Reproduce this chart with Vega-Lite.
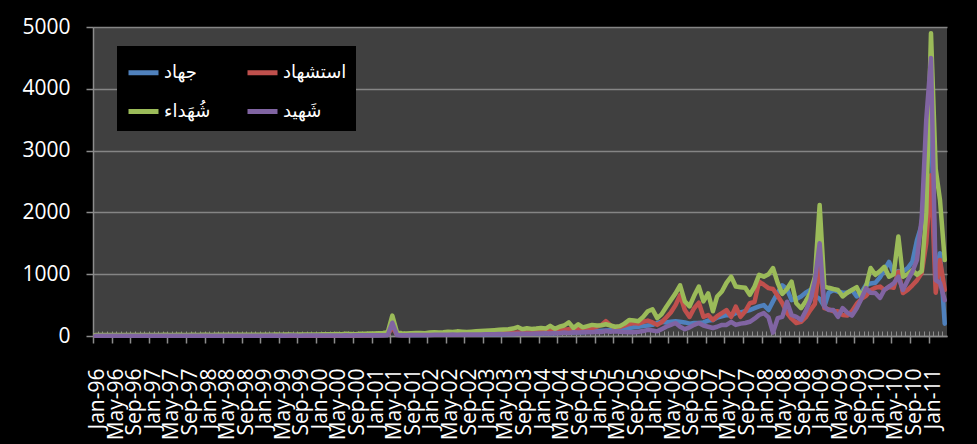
{
"$schema": "https://vega.github.io/schema/vega-lite/v6.json",
"width": 854, "height": 309,
"autosize": {"type": "none"},
"padding": {"left": 93, "top": 27, "right": 30, "bottom": 108},
"background": "#000000",
"config": {"view": {"fill": "#404040", "stroke": null}, "font": "Open Sans"},
"resolve": {"axis": {"x": "independent"}},
"data": {"values": [
{"d":"1996-01","s":"a","v":5},{"d":"1996-02","s":"a","v":6},{"d":"1996-03","s":"a","v":5},{"d":"1996-04","s":"a","v":4},{"d":"1996-05","s":"a","v":6},{"d":"1996-06","s":"a","v":5},{"d":"1996-07","s":"a","v":5},{"d":"1996-08","s":"a","v":6},{"d":"1996-09","s":"a","v":4},{"d":"1996-10","s":"a","v":5},{"d":"1996-11","s":"a","v":6},{"d":"1996-12","s":"a","v":5},
{"d":"1997-01","s":"a","v":5},{"d":"1997-02","s":"a","v":6},{"d":"1997-03","s":"a","v":6},{"d":"1997-04","s":"a","v":5},{"d":"1997-05","s":"a","v":4},{"d":"1997-06","s":"a","v":6},{"d":"1997-07","s":"a","v":5},{"d":"1997-08","s":"a","v":5},{"d":"1997-09","s":"a","v":6},{"d":"1997-10","s":"a","v":5},{"d":"1997-11","s":"a","v":6},{"d":"1997-12","s":"a","v":6},
{"d":"1998-01","s":"a","v":6},{"d":"1998-02","s":"a","v":5},{"d":"1998-03","s":"a","v":7},{"d":"1998-04","s":"a","v":6},{"d":"1998-05","s":"a","v":5},{"d":"1998-06","s":"a","v":6},{"d":"1998-07","s":"a","v":7},{"d":"1998-08","s":"a","v":6},{"d":"1998-09","s":"a","v":5},{"d":"1998-10","s":"a","v":7},{"d":"1998-11","s":"a","v":6},{"d":"1998-12","s":"a","v":7},
{"d":"1999-01","s":"a","v":7},{"d":"1999-02","s":"a","v":6},{"d":"1999-03","s":"a","v":8},{"d":"1999-04","s":"a","v":7},{"d":"1999-05","s":"a","v":6},{"d":"1999-06","s":"a","v":8},{"d":"1999-07","s":"a","v":7},{"d":"1999-08","s":"a","v":8},{"d":"1999-09","s":"a","v":7},{"d":"1999-10","s":"a","v":8},{"d":"1999-11","s":"a","v":9},{"d":"1999-12","s":"a","v":8},
{"d":"2000-01","s":"a","v":10},{"d":"2000-02","s":"a","v":8},{"d":"2000-03","s":"a","v":12},{"d":"2000-04","s":"a","v":10},{"d":"2000-05","s":"a","v":9},{"d":"2000-06","s":"a","v":11},{"d":"2000-07","s":"a","v":10},{"d":"2000-08","s":"a","v":12},{"d":"2000-09","s":"a","v":10},{"d":"2000-10","s":"a","v":9},{"d":"2000-11","s":"a","v":12},{"d":"2000-12","s":"a","v":14},
{"d":"2001-01","s":"a","v":15},{"d":"2001-02","s":"a","v":14},{"d":"2001-03","s":"a","v":16},{"d":"2001-04","s":"a","v":18},{"d":"2001-05","s":"a","v":180},{"d":"2001-06","s":"a","v":20},{"d":"2001-07","s":"a","v":16},{"d":"2001-08","s":"a","v":15},{"d":"2001-09","s":"a","v":17},{"d":"2001-10","s":"a","v":18},{"d":"2001-11","s":"a","v":16},{"d":"2001-12","s":"a","v":18},
{"d":"2002-01","s":"a","v":20},{"d":"2002-02","s":"a","v":22},{"d":"2002-03","s":"a","v":21},{"d":"2002-04","s":"a","v":24},{"d":"2002-05","s":"a","v":22},{"d":"2002-06","s":"a","v":25},{"d":"2002-07","s":"a","v":23},{"d":"2002-08","s":"a","v":26},{"d":"2002-09","s":"a","v":24},{"d":"2002-10","s":"a","v":25},{"d":"2002-11","s":"a","v":27},{"d":"2002-12","s":"a","v":26},
{"d":"2003-01","s":"a","v":28},{"d":"2003-02","s":"a","v":30},{"d":"2003-03","s":"a","v":29},{"d":"2003-04","s":"a","v":32},{"d":"2003-05","s":"a","v":30},{"d":"2003-06","s":"a","v":34},{"d":"2003-07","s":"a","v":33},{"d":"2003-08","s":"a","v":36},{"d":"2003-09","s":"a","v":35},{"d":"2003-10","s":"a","v":38},{"d":"2003-11","s":"a","v":37},{"d":"2003-12","s":"a","v":40},
{"d":"2004-01","s":"a","v":40},{"d":"2004-02","s":"a","v":45},{"d":"2004-03","s":"a","v":50},{"d":"2004-04","s":"a","v":45},{"d":"2004-05","s":"a","v":55},{"d":"2004-06","s":"a","v":60},{"d":"2004-07","s":"a","v":60},{"d":"2004-08","s":"a","v":55},{"d":"2004-09","s":"a","v":65},{"d":"2004-10","s":"a","v":60},{"d":"2004-11","s":"a","v":70},{"d":"2004-12","s":"a","v":75},
{"d":"2005-01","s":"a","v":80},{"d":"2005-02","s":"a","v":85},{"d":"2005-03","s":"a","v":90},{"d":"2005-04","s":"a","v":95},{"d":"2005-05","s":"a","v":100},{"d":"2005-06","s":"a","v":110},{"d":"2005-07","s":"a","v":120},{"d":"2005-08","s":"a","v":130},{"d":"2005-09","s":"a","v":140},{"d":"2005-10","s":"a","v":150},{"d":"2005-11","s":"a","v":160},{"d":"2005-12","s":"a","v":170},
{"d":"2006-01","s":"a","v":180},{"d":"2006-02","s":"a","v":210},{"d":"2006-03","s":"a","v":230},{"d":"2006-04","s":"a","v":220},{"d":"2006-05","s":"a","v":230},{"d":"2006-06","s":"a","v":240},{"d":"2006-07","s":"a","v":230},{"d":"2006-08","s":"a","v":220},{"d":"2006-09","s":"a","v":200},{"d":"2006-10","s":"a","v":210},{"d":"2006-11","s":"a","v":210},{"d":"2006-12","s":"a","v":220},
{"d":"2007-01","s":"a","v":250},{"d":"2007-02","s":"a","v":260},{"d":"2007-03","s":"a","v":300},{"d":"2007-04","s":"a","v":320},{"d":"2007-05","s":"a","v":340},{"d":"2007-06","s":"a","v":330},{"d":"2007-07","s":"a","v":370},{"d":"2007-08","s":"a","v":380},{"d":"2007-09","s":"a","v":400},{"d":"2007-10","s":"a","v":420},{"d":"2007-11","s":"a","v":450},{"d":"2007-12","s":"a","v":480},
{"d":"2008-01","s":"a","v":500},{"d":"2008-02","s":"a","v":420},{"d":"2008-03","s":"a","v":560},{"d":"2008-04","s":"a","v":700},{"d":"2008-05","s":"a","v":820},{"d":"2008-06","s":"a","v":760},{"d":"2008-07","s":"a","v":580},{"d":"2008-08","s":"a","v":600},{"d":"2008-09","s":"a","v":640},{"d":"2008-10","s":"a","v":700},{"d":"2008-11","s":"a","v":745},{"d":"2008-12","s":"a","v":650},
{"d":"2009-01","s":"a","v":600},{"d":"2009-02","s":"a","v":475},{"d":"2009-03","s":"a","v":700},{"d":"2009-04","s":"a","v":745},{"d":"2009-05","s":"a","v":720},{"d":"2009-06","s":"a","v":700},{"d":"2009-07","s":"a","v":700},{"d":"2009-08","s":"a","v":745},{"d":"2009-09","s":"a","v":640},{"d":"2009-10","s":"a","v":700},{"d":"2009-11","s":"a","v":825},{"d":"2009-12","s":"a","v":850},
{"d":"2010-01","s":"a","v":860},{"d":"2010-02","s":"a","v":950},{"d":"2010-03","s":"a","v":1070},{"d":"2010-04","s":"a","v":1200},{"d":"2010-05","s":"a","v":1020},{"d":"2010-06","s":"a","v":1050},{"d":"2010-07","s":"a","v":1040},{"d":"2010-08","s":"a","v":1100},{"d":"2010-09","s":"a","v":1200},{"d":"2010-10","s":"a","v":1550},{"d":"2010-11","s":"a","v":1800},{"d":"2010-12","s":"a","v":3000},
{"d":"2011-01","s":"a","v":3500},{"d":"2011-02","s":"a","v":900},{"d":"2011-03","s":"a","v":1340},{"d":"2011-04","s":"a","v":200},
{"d":"1996-01","s":"b","v":4},{"d":"1996-02","s":"b","v":5},{"d":"1996-03","s":"b","v":4},{"d":"1996-04","s":"b","v":5},{"d":"1996-05","s":"b","v":4},{"d":"1996-06","s":"b","v":5},{"d":"1996-07","s":"b","v":6},{"d":"1996-08","s":"b","v":5},{"d":"1996-09","s":"b","v":4},{"d":"1996-10","s":"b","v":5},{"d":"1996-11","s":"b","v":5},{"d":"1996-12","s":"b","v":4},
{"d":"1997-01","s":"b","v":5},{"d":"1997-02","s":"b","v":5},{"d":"1997-03","s":"b","v":6},{"d":"1997-04","s":"b","v":4},{"d":"1997-05","s":"b","v":5},{"d":"1997-06","s":"b","v":6},{"d":"1997-07","s":"b","v":5},{"d":"1997-08","s":"b","v":5},{"d":"1997-09","s":"b","v":6},{"d":"1997-10","s":"b","v":5},{"d":"1997-11","s":"b","v":5},{"d":"1997-12","s":"b","v":6},
{"d":"1998-01","s":"b","v":6},{"d":"1998-02","s":"b","v":6},{"d":"1998-03","s":"b","v":5},{"d":"1998-04","s":"b","v":7},{"d":"1998-05","s":"b","v":6},{"d":"1998-06","s":"b","v":6},{"d":"1998-07","s":"b","v":7},{"d":"1998-08","s":"b","v":6},{"d":"1998-09","s":"b","v":6},{"d":"1998-10","s":"b","v":7},{"d":"1998-11","s":"b","v":6},{"d":"1998-12","s":"b","v":7},
{"d":"1999-01","s":"b","v":7},{"d":"1999-02","s":"b","v":7},{"d":"1999-03","s":"b","v":8},{"d":"1999-04","s":"b","v":6},{"d":"1999-05","s":"b","v":7},{"d":"1999-06","s":"b","v":8},{"d":"1999-07","s":"b","v":8},{"d":"1999-08","s":"b","v":7},{"d":"1999-09","s":"b","v":8},{"d":"1999-10","s":"b","v":9},{"d":"1999-11","s":"b","v":8},{"d":"1999-12","s":"b","v":9},
{"d":"2000-01","s":"b","v":9},{"d":"2000-02","s":"b","v":10},{"d":"2000-03","s":"b","v":11},{"d":"2000-04","s":"b","v":9},{"d":"2000-05","s":"b","v":10},{"d":"2000-06","s":"b","v":12},{"d":"2000-07","s":"b","v":11},{"d":"2000-08","s":"b","v":10},{"d":"2000-09","s":"b","v":12},{"d":"2000-10","s":"b","v":11},{"d":"2000-11","s":"b","v":13},{"d":"2000-12","s":"b","v":14},
{"d":"2001-01","s":"b","v":15},{"d":"2001-02","s":"b","v":15},{"d":"2001-03","s":"b","v":18},{"d":"2001-04","s":"b","v":20},{"d":"2001-05","s":"b","v":150},{"d":"2001-06","s":"b","v":20},{"d":"2001-07","s":"b","v":18},{"d":"2001-08","s":"b","v":18},{"d":"2001-09","s":"b","v":20},{"d":"2001-10","s":"b","v":22},{"d":"2001-11","s":"b","v":20},{"d":"2001-12","s":"b","v":22},
{"d":"2002-01","s":"b","v":25},{"d":"2002-02","s":"b","v":28},{"d":"2002-03","s":"b","v":26},{"d":"2002-04","s":"b","v":30},{"d":"2002-05","s":"b","v":28},{"d":"2002-06","s":"b","v":32},{"d":"2002-07","s":"b","v":30},{"d":"2002-08","s":"b","v":34},{"d":"2002-09","s":"b","v":32},{"d":"2002-10","s":"b","v":35},{"d":"2002-11","s":"b","v":34},{"d":"2002-12","s":"b","v":36},
{"d":"2003-01","s":"b","v":38},{"d":"2003-02","s":"b","v":40},{"d":"2003-03","s":"b","v":42},{"d":"2003-04","s":"b","v":45},{"d":"2003-05","s":"b","v":44},{"d":"2003-06","s":"b","v":48},{"d":"2003-07","s":"b","v":50},{"d":"2003-08","s":"b","v":55},{"d":"2003-09","s":"b","v":52},{"d":"2003-10","s":"b","v":56},{"d":"2003-11","s":"b","v":58},{"d":"2003-12","s":"b","v":60},
{"d":"2004-01","s":"b","v":60},{"d":"2004-02","s":"b","v":70},{"d":"2004-03","s":"b","v":80},{"d":"2004-04","s":"b","v":75},{"d":"2004-05","s":"b","v":90},{"d":"2004-06","s":"b","v":100},{"d":"2004-07","s":"b","v":110},{"d":"2004-08","s":"b","v":90},{"d":"2004-09","s":"b","v":120},{"d":"2004-10","s":"b","v":100},{"d":"2004-11","s":"b","v":110},{"d":"2004-12","s":"b","v":130},
{"d":"2005-01","s":"b","v":150},{"d":"2005-02","s":"b","v":180},{"d":"2005-03","s":"b","v":240},{"d":"2005-04","s":"b","v":170},{"d":"2005-05","s":"b","v":140},{"d":"2005-06","s":"b","v":150},{"d":"2005-07","s":"b","v":170},{"d":"2005-08","s":"b","v":195},{"d":"2005-09","s":"b","v":210},{"d":"2005-10","s":"b","v":200},{"d":"2005-11","s":"b","v":230},{"d":"2005-12","s":"b","v":250},
{"d":"2006-01","s":"b","v":220},{"d":"2006-02","s":"b","v":180},{"d":"2006-03","s":"b","v":220},{"d":"2006-04","s":"b","v":300},{"d":"2006-05","s":"b","v":380},{"d":"2006-06","s":"b","v":500},{"d":"2006-07","s":"b","v":660},{"d":"2006-08","s":"b","v":420},{"d":"2006-09","s":"b","v":310},{"d":"2006-10","s":"b","v":450},{"d":"2006-11","s":"b","v":540},{"d":"2006-12","s":"b","v":310},
{"d":"2007-01","s":"b","v":340},{"d":"2007-02","s":"b","v":260},{"d":"2007-03","s":"b","v":320},{"d":"2007-04","s":"b","v":370},{"d":"2007-05","s":"b","v":420},{"d":"2007-06","s":"b","v":310},{"d":"2007-07","s":"b","v":475},{"d":"2007-08","s":"b","v":310},{"d":"2007-09","s":"b","v":400},{"d":"2007-10","s":"b","v":530},{"d":"2007-11","s":"b","v":550},{"d":"2007-12","s":"b","v":880},
{"d":"2008-01","s":"b","v":830},{"d":"2008-02","s":"b","v":775},{"d":"2008-03","s":"b","v":760},{"d":"2008-04","s":"b","v":650},{"d":"2008-05","s":"b","v":530},{"d":"2008-06","s":"b","v":370},{"d":"2008-07","s":"b","v":280},{"d":"2008-08","s":"b","v":210},{"d":"2008-09","s":"b","v":230},{"d":"2008-10","s":"b","v":300},{"d":"2008-11","s":"b","v":420},{"d":"2008-12","s":"b","v":520},
{"d":"2009-01","s":"b","v":1200},{"d":"2009-02","s":"b","v":450},{"d":"2009-03","s":"b","v":430},{"d":"2009-04","s":"b","v":400},{"d":"2009-05","s":"b","v":400},{"d":"2009-06","s":"b","v":340},{"d":"2009-07","s":"b","v":330},{"d":"2009-08","s":"b","v":400},{"d":"2009-09","s":"b","v":520},{"d":"2009-10","s":"b","v":600},{"d":"2009-11","s":"b","v":650},{"d":"2009-12","s":"b","v":740},
{"d":"2010-01","s":"b","v":780},{"d":"2010-02","s":"b","v":800},{"d":"2010-03","s":"b","v":745},{"d":"2010-04","s":"b","v":800},{"d":"2010-05","s":"b","v":780},{"d":"2010-06","s":"b","v":1040},{"d":"2010-07","s":"b","v":695},{"d":"2010-08","s":"b","v":745},{"d":"2010-09","s":"b","v":820},{"d":"2010-10","s":"b","v":900},{"d":"2010-11","s":"b","v":1020},{"d":"2010-12","s":"b","v":1500},
{"d":"2011-01","s":"b","v":2600},{"d":"2011-02","s":"b","v":700},{"d":"2011-03","s":"b","v":1230},{"d":"2011-04","s":"b","v":745},
{"d":"1996-01","s":"c","v":15},{"d":"1996-02","s":"c","v":18},{"d":"1996-03","s":"c","v":16},{"d":"1996-04","s":"c","v":17},{"d":"1996-05","s":"c","v":15},{"d":"1996-06","s":"c","v":18},{"d":"1996-07","s":"c","v":16},{"d":"1996-08","s":"c","v":17},{"d":"1996-09","s":"c","v":18},{"d":"1996-10","s":"c","v":16},{"d":"1996-11","s":"c","v":17},{"d":"1996-12","s":"c","v":18},
{"d":"1997-01","s":"c","v":17},{"d":"1997-02","s":"c","v":18},{"d":"1997-03","s":"c","v":16},{"d":"1997-04","s":"c","v":19},{"d":"1997-05","s":"c","v":18},{"d":"1997-06","s":"c","v":17},{"d":"1997-07","s":"c","v":19},{"d":"1997-08","s":"c","v":18},{"d":"1997-09","s":"c","v":17},{"d":"1997-10","s":"c","v":19},{"d":"1997-11","s":"c","v":18},{"d":"1997-12","s":"c","v":20},
{"d":"1998-01","s":"c","v":19},{"d":"1998-02","s":"c","v":18},{"d":"1998-03","s":"c","v":20},{"d":"1998-04","s":"c","v":19},{"d":"1998-05","s":"c","v":21},{"d":"1998-06","s":"c","v":20},{"d":"1998-07","s":"c","v":19},{"d":"1998-08","s":"c","v":21},{"d":"1998-09","s":"c","v":20},{"d":"1998-10","s":"c","v":22},{"d":"1998-11","s":"c","v":21},{"d":"1998-12","s":"c","v":20},
{"d":"1999-01","s":"c","v":21},{"d":"1999-02","s":"c","v":22},{"d":"1999-03","s":"c","v":20},{"d":"1999-04","s":"c","v":23},{"d":"1999-05","s":"c","v":22},{"d":"1999-06","s":"c","v":24},{"d":"1999-07","s":"c","v":23},{"d":"1999-08","s":"c","v":22},{"d":"1999-09","s":"c","v":24},{"d":"1999-10","s":"c","v":25},{"d":"1999-11","s":"c","v":24},{"d":"1999-12","s":"c","v":26},
{"d":"2000-01","s":"c","v":25},{"d":"2000-02","s":"c","v":28},{"d":"2000-03","s":"c","v":30},{"d":"2000-04","s":"c","v":27},{"d":"2000-05","s":"c","v":32},{"d":"2000-06","s":"c","v":30},{"d":"2000-07","s":"c","v":35},{"d":"2000-08","s":"c","v":33},{"d":"2000-09","s":"c","v":30},{"d":"2000-10","s":"c","v":36},{"d":"2000-11","s":"c","v":38},{"d":"2000-12","s":"c","v":40},
{"d":"2001-01","s":"c","v":40},{"d":"2001-02","s":"c","v":45},{"d":"2001-03","s":"c","v":50},{"d":"2001-04","s":"c","v":60},{"d":"2001-05","s":"c","v":330},{"d":"2001-06","s":"c","v":60},{"d":"2001-07","s":"c","v":45},{"d":"2001-08","s":"c","v":40},{"d":"2001-09","s":"c","v":45},{"d":"2001-10","s":"c","v":50},{"d":"2001-11","s":"c","v":50},{"d":"2001-12","s":"c","v":45},
{"d":"2002-01","s":"c","v":55},{"d":"2002-02","s":"c","v":60},{"d":"2002-03","s":"c","v":55},{"d":"2002-04","s":"c","v":60},{"d":"2002-05","s":"c","v":70},{"d":"2002-06","s":"c","v":65},{"d":"2002-07","s":"c","v":75},{"d":"2002-08","s":"c","v":70},{"d":"2002-09","s":"c","v":65},{"d":"2002-10","s":"c","v":70},{"d":"2002-11","s":"c","v":75},{"d":"2002-12","s":"c","v":80},
{"d":"2003-01","s":"c","v":85},{"d":"2003-02","s":"c","v":90},{"d":"2003-03","s":"c","v":95},{"d":"2003-04","s":"c","v":100},{"d":"2003-05","s":"c","v":105},{"d":"2003-06","s":"c","v":110},{"d":"2003-07","s":"c","v":120},{"d":"2003-08","s":"c","v":145},{"d":"2003-09","s":"c","v":110},{"d":"2003-10","s":"c","v":125},{"d":"2003-11","s":"c","v":115},{"d":"2003-12","s":"c","v":120},
{"d":"2004-01","s":"c","v":130},{"d":"2004-02","s":"c","v":120},{"d":"2004-03","s":"c","v":165},{"d":"2004-04","s":"c","v":115},{"d":"2004-05","s":"c","v":150},{"d":"2004-06","s":"c","v":170},{"d":"2004-07","s":"c","v":220},{"d":"2004-08","s":"c","v":130},{"d":"2004-09","s":"c","v":190},{"d":"2004-10","s":"c","v":140},{"d":"2004-11","s":"c","v":160},{"d":"2004-12","s":"c","v":180},
{"d":"2005-01","s":"c","v":170},{"d":"2005-02","s":"c","v":175},{"d":"2005-03","s":"c","v":190},{"d":"2005-04","s":"c","v":170},{"d":"2005-05","s":"c","v":150},{"d":"2005-06","s":"c","v":160},{"d":"2005-07","s":"c","v":200},{"d":"2005-08","s":"c","v":260},{"d":"2005-09","s":"c","v":250},{"d":"2005-10","s":"c","v":240},{"d":"2005-11","s":"c","v":310},{"d":"2005-12","s":"c","v":400},
{"d":"2006-01","s":"c","v":430},{"d":"2006-02","s":"c","v":290},{"d":"2006-03","s":"c","v":350},{"d":"2006-04","s":"c","v":470},{"d":"2006-05","s":"c","v":580},{"d":"2006-06","s":"c","v":690},{"d":"2006-07","s":"c","v":820},{"d":"2006-08","s":"c","v":560},{"d":"2006-09","s":"c","v":480},{"d":"2006-10","s":"c","v":650},{"d":"2006-11","s":"c","v":800},{"d":"2006-12","s":"c","v":560},
{"d":"2007-01","s":"c","v":690},{"d":"2007-02","s":"c","v":400},{"d":"2007-03","s":"c","v":640},{"d":"2007-04","s":"c","v":720},{"d":"2007-05","s":"c","v":860},{"d":"2007-06","s":"c","v":960},{"d":"2007-07","s":"c","v":800},{"d":"2007-08","s":"c","v":790},{"d":"2007-09","s":"c","v":780},{"d":"2007-10","s":"c","v":665},{"d":"2007-11","s":"c","v":800},{"d":"2007-12","s":"c","v":990},
{"d":"2008-01","s":"c","v":960},{"d":"2008-02","s":"c","v":1000},{"d":"2008-03","s":"c","v":1100},{"d":"2008-04","s":"c","v":860},{"d":"2008-05","s":"c","v":680},{"d":"2008-06","s":"c","v":760},{"d":"2008-07","s":"c","v":880},{"d":"2008-08","s":"c","v":530},{"d":"2008-09","s":"c","v":450},{"d":"2008-10","s":"c","v":560},{"d":"2008-11","s":"c","v":700},{"d":"2008-12","s":"c","v":960},
{"d":"2009-01","s":"c","v":2120},{"d":"2009-02","s":"c","v":800},{"d":"2009-03","s":"c","v":780},{"d":"2009-04","s":"c","v":760},{"d":"2009-05","s":"c","v":745},{"d":"2009-06","s":"c","v":640},{"d":"2009-07","s":"c","v":700},{"d":"2009-08","s":"c","v":745},{"d":"2009-09","s":"c","v":790},{"d":"2009-10","s":"c","v":640},{"d":"2009-11","s":"c","v":800},{"d":"2009-12","s":"c","v":1100},
{"d":"2010-01","s":"c","v":990},{"d":"2010-02","s":"c","v":1050},{"d":"2010-03","s":"c","v":1120},{"d":"2010-04","s":"c","v":960},{"d":"2010-05","s":"c","v":1000},{"d":"2010-06","s":"c","v":1610},{"d":"2010-07","s":"c","v":960},{"d":"2010-08","s":"c","v":1000},{"d":"2010-09","s":"c","v":1070},{"d":"2010-10","s":"c","v":990},{"d":"2010-11","s":"c","v":1050},{"d":"2010-12","s":"c","v":2000},
{"d":"2011-01","s":"c","v":4900},{"d":"2011-02","s":"c","v":2700},{"d":"2011-03","s":"c","v":2200},{"d":"2011-04","s":"c","v":1230},
{"d":"1996-01","s":"d","v":4},{"d":"1996-02","s":"d","v":5},{"d":"1996-03","s":"d","v":4},{"d":"1996-04","s":"d","v":4},{"d":"1996-05","s":"d","v":5},{"d":"1996-06","s":"d","v":4},{"d":"1996-07","s":"d","v":5},{"d":"1996-08","s":"d","v":4},{"d":"1996-09","s":"d","v":4},{"d":"1996-10","s":"d","v":5},{"d":"1996-11","s":"d","v":4},{"d":"1996-12","s":"d","v":5},
{"d":"1997-01","s":"d","v":5},{"d":"1997-02","s":"d","v":4},{"d":"1997-03","s":"d","v":5},{"d":"1997-04","s":"d","v":5},{"d":"1997-05","s":"d","v":4},{"d":"1997-06","s":"d","v":5},{"d":"1997-07","s":"d","v":5},{"d":"1997-08","s":"d","v":4},{"d":"1997-09","s":"d","v":5},{"d":"1997-10","s":"d","v":5},{"d":"1997-11","s":"d","v":4},{"d":"1997-12","s":"d","v":5},
{"d":"1998-01","s":"d","v":5},{"d":"1998-02","s":"d","v":5},{"d":"1998-03","s":"d","v":6},{"d":"1998-04","s":"d","v":5},{"d":"1998-05","s":"d","v":5},{"d":"1998-06","s":"d","v":6},{"d":"1998-07","s":"d","v":5},{"d":"1998-08","s":"d","v":6},{"d":"1998-09","s":"d","v":5},{"d":"1998-10","s":"d","v":6},{"d":"1998-11","s":"d","v":6},{"d":"1998-12","s":"d","v":5},
{"d":"1999-01","s":"d","v":6},{"d":"1999-02","s":"d","v":6},{"d":"1999-03","s":"d","v":7},{"d":"1999-04","s":"d","v":6},{"d":"1999-05","s":"d","v":7},{"d":"1999-06","s":"d","v":6},{"d":"1999-07","s":"d","v":7},{"d":"1999-08","s":"d","v":7},{"d":"1999-09","s":"d","v":6},{"d":"1999-10","s":"d","v":7},{"d":"1999-11","s":"d","v":8},{"d":"1999-12","s":"d","v":7},
{"d":"2000-01","s":"d","v":8},{"d":"2000-02","s":"d","v":8},{"d":"2000-03","s":"d","v":9},{"d":"2000-04","s":"d","v":10},{"d":"2000-05","s":"d","v":9},{"d":"2000-06","s":"d","v":10},{"d":"2000-07","s":"d","v":11},{"d":"2000-08","s":"d","v":10},{"d":"2000-09","s":"d","v":11},{"d":"2000-10","s":"d","v":12},{"d":"2000-11","s":"d","v":11},{"d":"2000-12","s":"d","v":12},
{"d":"2001-01","s":"d","v":12},{"d":"2001-02","s":"d","v":12},{"d":"2001-03","s":"d","v":14},{"d":"2001-04","s":"d","v":15},{"d":"2001-05","s":"d","v":215},{"d":"2001-06","s":"d","v":15},{"d":"2001-07","s":"d","v":14},{"d":"2001-08","s":"d","v":14},{"d":"2001-09","s":"d","v":15},{"d":"2001-10","s":"d","v":16},{"d":"2001-11","s":"d","v":15},{"d":"2001-12","s":"d","v":16},
{"d":"2002-01","s":"d","v":18},{"d":"2002-02","s":"d","v":20},{"d":"2002-03","s":"d","v":19},{"d":"2002-04","s":"d","v":22},{"d":"2002-05","s":"d","v":20},{"d":"2002-06","s":"d","v":23},{"d":"2002-07","s":"d","v":22},{"d":"2002-08","s":"d","v":24},{"d":"2002-09","s":"d","v":23},{"d":"2002-10","s":"d","v":25},{"d":"2002-11","s":"d","v":24},{"d":"2002-12","s":"d","v":26},
{"d":"2003-01","s":"d","v":28},{"d":"2003-02","s":"d","v":30},{"d":"2003-03","s":"d","v":29},{"d":"2003-04","s":"d","v":32},{"d":"2003-05","s":"d","v":30},{"d":"2003-06","s":"d","v":33},{"d":"2003-07","s":"d","v":34},{"d":"2003-08","s":"d","v":36},{"d":"2003-09","s":"d","v":35},{"d":"2003-10","s":"d","v":37},{"d":"2003-11","s":"d","v":38},{"d":"2003-12","s":"d","v":40},
{"d":"2004-01","s":"d","v":40},{"d":"2004-02","s":"d","v":45},{"d":"2004-03","s":"d","v":40},{"d":"2004-04","s":"d","v":50},{"d":"2004-05","s":"d","v":45},{"d":"2004-06","s":"d","v":55},{"d":"2004-07","s":"d","v":50},{"d":"2004-08","s":"d","v":60},{"d":"2004-09","s":"d","v":55},{"d":"2004-10","s":"d","v":60},{"d":"2004-11","s":"d","v":65},{"d":"2004-12","s":"d","v":60},
{"d":"2005-01","s":"d","v":70},{"d":"2005-02","s":"d","v":65},{"d":"2005-03","s":"d","v":80},{"d":"2005-04","s":"d","v":70},{"d":"2005-05","s":"d","v":75},{"d":"2005-06","s":"d","v":70},{"d":"2005-07","s":"d","v":65},{"d":"2005-08","s":"d","v":60},{"d":"2005-09","s":"d","v":60},{"d":"2005-10","s":"d","v":70},{"d":"2005-11","s":"d","v":80},{"d":"2005-12","s":"d","v":100},
{"d":"2006-01","s":"d","v":90},{"d":"2006-02","s":"d","v":75},{"d":"2006-03","s":"d","v":110},{"d":"2006-04","s":"d","v":150},{"d":"2006-05","s":"d","v":180},{"d":"2006-06","s":"d","v":210},{"d":"2006-07","s":"d","v":150},{"d":"2006-08","s":"d","v":110},{"d":"2006-09","s":"d","v":140},{"d":"2006-10","s":"d","v":180},{"d":"2006-11","s":"d","v":210},{"d":"2006-12","s":"d","v":170},
{"d":"2007-01","s":"d","v":150},{"d":"2007-02","s":"d","v":130},{"d":"2007-03","s":"d","v":150},{"d":"2007-04","s":"d","v":180},{"d":"2007-05","s":"d","v":180},{"d":"2007-06","s":"d","v":230},{"d":"2007-07","s":"d","v":180},{"d":"2007-08","s":"d","v":200},{"d":"2007-09","s":"d","v":210},{"d":"2007-10","s":"d","v":230},{"d":"2007-11","s":"d","v":280},{"d":"2007-12","s":"d","v":340},
{"d":"2008-01","s":"d","v":370},{"d":"2008-02","s":"d","v":300},{"d":"2008-03","s":"d","v":55},{"d":"2008-04","s":"d","v":290},{"d":"2008-05","s":"d","v":310},{"d":"2008-06","s":"d","v":555},{"d":"2008-07","s":"d","v":340},{"d":"2008-08","s":"d","v":310},{"d":"2008-09","s":"d","v":260},{"d":"2008-10","s":"d","v":400},{"d":"2008-11","s":"d","v":580},{"d":"2008-12","s":"d","v":900},
{"d":"2009-01","s":"d","v":1500},{"d":"2009-02","s":"d","v":475},{"d":"2009-03","s":"d","v":420},{"d":"2009-04","s":"d","v":420},{"d":"2009-05","s":"d","v":310},{"d":"2009-06","s":"d","v":450},{"d":"2009-07","s":"d","v":380},{"d":"2009-08","s":"d","v":330},{"d":"2009-09","s":"d","v":450},{"d":"2009-10","s":"d","v":600},{"d":"2009-11","s":"d","v":775},{"d":"2009-12","s":"d","v":700},
{"d":"2010-01","s":"d","v":695},{"d":"2010-02","s":"d","v":615},{"d":"2010-03","s":"d","v":745},{"d":"2010-04","s":"d","v":800},{"d":"2010-05","s":"d","v":850},{"d":"2010-06","s":"d","v":960},{"d":"2010-07","s":"d","v":745},{"d":"2010-08","s":"d","v":900},{"d":"2010-09","s":"d","v":1040},{"d":"2010-10","s":"d","v":1230},{"d":"2010-11","s":"d","v":1900},{"d":"2010-12","s":"d","v":3500},
{"d":"2011-01","s":"d","v":4500},{"d":"2011-02","s":"d","v":905},{"d":"2011-03","s":"d","v":860},{"d":"2011-04","s":"d","v":580}
]},
"layer": [
{"mark": {"type": "point", "opacity": 0},
 "encoding": {
  "x": {"field": "d", "type": "temporal",
   "scale": {"type": "utc", "domain": [{"year": 1995, "month": 12, "date": 16, "hours": 12, "utc": true}, {"year": 2011, "month": 4, "date": 16, "utc": true}]},
   "axis": {"orient": "bottom", "tickCount": {"interval": "month", "step": 1}, "labels": false, "domain": false, "grid": false, "ticks": true, "tickSize": 5, "offset": -5, "tickColor": "#8c8c8c", "tickWidth": 1, "tickOffset": -2.3, "title": null}}
 }},
{"mark": {"type": "line", "strokeWidth": 4.5, "strokeCap": "round", "strokeJoin": "round"},
 "encoding": {
  "x": {"field": "d", "type": "temporal",
   "axis": {"orient": "bottom", "tickCount": {"interval": "month", "step": 4}, "format": "%b-%y", "labelAngle": 270, "labelFontSize": 21, "labelColor": "#ffffff", "labelPadding": 25, "labelOverlap": false, "labelFlush": false, "labelBound": false, "tickSize": 7, "tickColor": "#8c8c8c", "tickWidth": 1.5, "tickOffset": -2.3, "labelOffset": 4.6, "domainColor": "#8c8c8c", "domainWidth": 1.5, "grid": false, "title": null}},
  "y": {"field": "v", "type": "quantitative",
   "scale": {"domain": [0, 5000], "nice": false},
   "axis": {"values": [0, 1000, 2000, 3000, 4000, 5000], "format": "d", "grid": true, "gridColor": "#858585", "gridWidth": 1.5, "labelColor": "#ffffff", "labelFontSize": 21, "labelPadding": 16, "tickSize": 7, "tickColor": "#8c8c8c", "tickWidth": 1.5, "domainColor": "#8c8c8c", "domainWidth": 1.5, "title": null}},
  "color": {"field": "s", "type": "nominal",
   "scale": {"domain": ["a", "b", "c", "d"], "range": ["#4F81BD", "#C0504D", "#9BBB59", "#8064A2"]},
   "legend": {"orient": "none", "legendX": 24, "legendY": 19, "direction": "horizontal", "columns": 2, "fillColor": "#000000", "padding": 9, "symbolType": "stroke", "symbolStrokeWidth": 5, "symbolSize": 900, "labelFontSize": 18, "labelColor": "#ffffff", "labelFont": "DejaVu Sans", "labelOffset": 3, "columnPadding": 26, "rowPadding": 11, "title": null,
    "labelExpr": "datum.value == 'a' ? 'جهاد' : datum.value == 'b' ? 'استشهاد' : datum.value == 'c' ? 'شُهَداء' : 'شَهيد'"}}
 }}
]
}
